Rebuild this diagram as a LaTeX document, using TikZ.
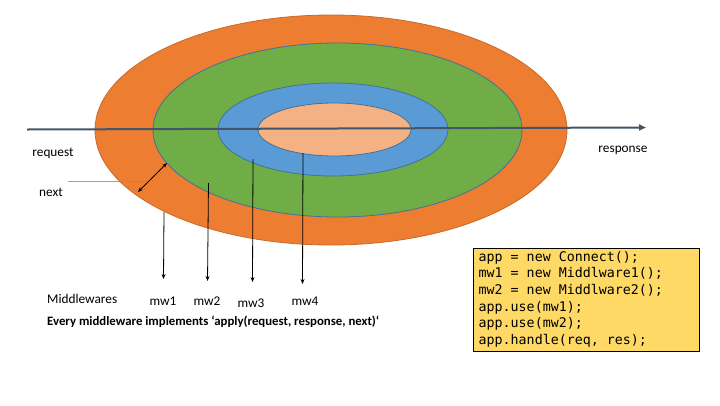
\documentclass[tikz,border=0pt]{standalone}
\usepackage{fontspec}
\setmainfont{Carlito}
\newfontfamily\codefont{DejaVu Sans Mono}
\usetikzlibrary{shapes.geometric,arrows.meta}
\definecolor{ringorange}{HTML}{ED7D31}
\definecolor{ringgreen}{HTML}{70AD47}
\definecolor{ringblue}{HTML}{5B9BD5}
\definecolor{ringpeach}{HTML}{F4B183}
\definecolor{ringedge}{HTML}{41719C}
\definecolor{axisgray}{HTML}{44546A}
\definecolor{codefill}{HTML}{FFD966}
\begin{document}
\begin{tikzpicture}[x=1pt,y=-1pt,
  ring/.style={ellipse, inner sep=0pt, outer sep=0pt, draw=ringedge, line width=0.8pt},
  axisline/.style={draw=axisgray, line width=2pt, -{Triangle[length=7pt,width=6pt]}},
  pointer/.style={draw=black, line width=0.8pt, -{Stealth[length=5pt,width=4pt]}},
  lbl/.style={font=\fontsize{13.3}{16}\selectfont, inner sep=0pt},
  boldlbl/.style={font=\fontsize{12.8}{15}\selectfont\bfseries, inner sep=0pt},
]
\useasboundingbox (0,0) rectangle (720,405);
% rings
\node[ring, fill=ringorange, draw=ringorange!85!black, minimum width=472pt, minimum height=230pt] (outer) at (331,130) {};
\node[ring, fill=ringgreen, minimum width=369pt, minimum height=174pt] (green) at (337.5,130) {};
\node[ring, fill=ringblue, minimum width=230pt, minimum height=93pt] (blue) at (333,129.5) {};
\node[ring, fill=ringpeach, minimum width=153pt, minimum height=53pt] (core) at (334.5,129.5) {};
% request/response axis
\coordinate (axstart) at (27,129.5);
\coordinate (axend) at (646,127.5);
\draw[axisline] (axstart) -- (axend);
% labels
\node[lbl] (request) at (53,153) {request};
\node[lbl] (response) at (623,150) {response};
\node[lbl] (next) at (51,192) {next};
% next pointer
\coordinate (nextA) at (68,181);
\coordinate (nextB) at (147,181);
\draw[ringblue, line width=0.8pt, opacity=0.85] (nextA) -- (nextB);
\coordinate (nA) at (138,192);
\coordinate (nB) at (167,163);
\draw[draw=black, line width=0.8pt, {Stealth[length=5pt,width=4pt]}-{Stealth[length=5pt,width=4pt]}] (nA) -- (nB);
% middleware pointers
\coordinate (t1) at (164,212); \coordinate (b1) at (163.5,279);
\coordinate (t2) at (208.5,183); \coordinate (b2) at (207.5,281);
\coordinate (t3) at (253,159); \coordinate (b3) at (252.5,282);
\coordinate (t4) at (303,153); \coordinate (b4) at (302.5,284);
\draw[pointer] (t1) -- (b1);
\draw[pointer] (t2) -- (b2);
\draw[pointer] (t3) -- (b3);
\draw[pointer] (t4) -- (b4);
\node[lbl] (mw1) at (163,301) {mw1};
\node[lbl] (mw2) at (207,301) {mw2};
\node[lbl] (mw3) at (251,303) {mw3};
\node[lbl] (mw4) at (305,301) {mw4};
\node[lbl, anchor=west] (mws) at (47,299) {Middlewares};
\node[boldlbl, anchor=west] (every) at (47,322) {Every middleware implements \symbol{96}apply(request, response, next)\symbol{96}};
% code box
\node[draw=black, line width=1.3pt, fill=codefill, minimum width=226pt, minimum height=103pt, anchor=north west, inner sep=0pt] (codebox) at (473,248) {};
\node[anchor=north west, align=left, inner sep=0pt, font=\codefont\fontsize{13.3}{16.6}\selectfont] (code) at (478.5,251) {app = new Connect();\\mw1 = new Middlware1();\\mw2 = new Middlware2();\\app.use(mw1);\\app.use(mw2);\\app.handle(req, res);};
\end{tikzpicture}
\end{document}
